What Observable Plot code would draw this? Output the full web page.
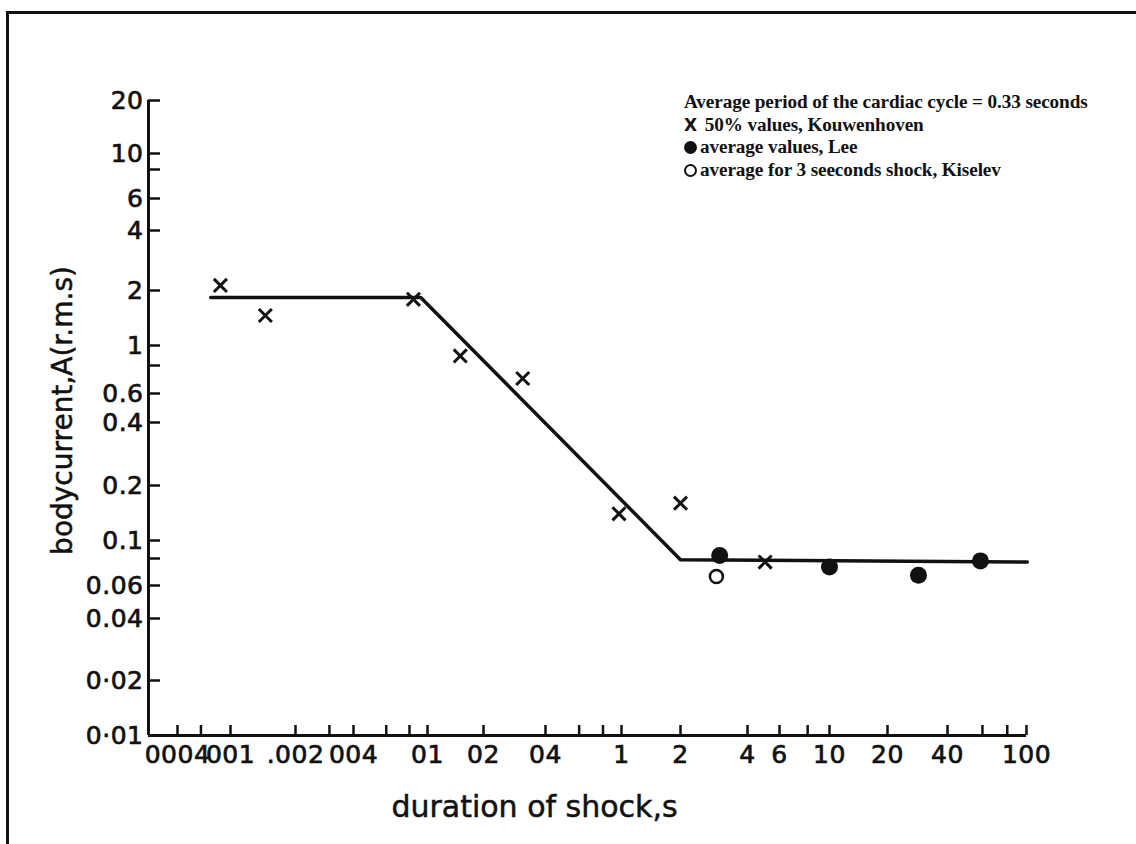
<!DOCTYPE html>
<html>
<head>
<meta charset="utf-8">
<script src="https://cdn.jsdelivr.net/npm/d3@7"></script>
<script src="https://cdn.jsdelivr.net/npm/@observablehq/plot@0.6"></script>
<style>
  html, body { margin: 0; padding: 0; background: #fff; overflow: hidden; }
  #wrap { position: relative; width: 1136px; height: 844px; overflow: hidden; }
  #frame { position: absolute; left: 6px; top: 11px; width: 1300px; height: 1000px;
           border-left: 3px solid #111; border-top: 3px solid #111; pointer-events: none; }
  #chart { position: absolute; left: 0; top: 0; }
  #chart svg g[aria-label$="tick label"] text { letter-spacing: 0.5px; stroke: #111; stroke-width: 0.7px; }
  #chart svg g[aria-label$="axis label"] text { stroke: #111; stroke-width: 0.5px; }
  #legend { position: absolute; left: 684px; top: 91px; color: #111;
            font-family: "Liberation Serif", "Times New Roman", serif; font-weight: bold;
            font-size: 19.2px; line-height: 22.5px; white-space: nowrap; letter-spacing: -0.1px; }
  #legend .x { font-family: "DejaVu Sans", sans-serif; font-weight: bold; font-size: 17px; margin-right: 3px; }
  #legend .mk { display: inline-block; width: 13px; height: 13px; border-radius: 50%;
                box-sizing: border-box; margin-right: 3px; vertical-align: -1px; }
  #legend .fill { background: #111; }
  #legend .open { border: 2.5px solid #111; }
</style>
</head>
<body>
<div id="wrap">
  <div id="chart"></div>
  <div id="frame"></div>
  <div id="legend">
    <div>Average period of the cardiac cycle = 0.33 seconds</div>
    <div><span class="x">X</span> 50% values, Kouwenhoven</div>
    <div><span class="mk fill"></span>average values, Lee</div>
    <div><span class="mk open"></span>average for 3 seeconds shock, Kiselev</div>
  </div>
</div>
<script>
// ---------- data ----------
const xTickValues = [0.004, 0.01, 0.02, 0.04, 0.1, 0.2, 0.4, 1, 2, 4, 6, 10, 20, 40, 100];
const xTickLabels = ["0004", "001", ".002", "004", "01", "02", "04", "1", "2", "4", "6", "10", "20", "40", "100"];
const xMinorTicks = [0.006, 0.03, 0.06, 0.08, 0.6, 0.8, 8, 60, 80];
const yTickValues = [20, 10, 6, 4, 2, 1, 0.6, 0.4, 0.2, 0.1, 0.06, 0.04, 0.02, 0.01];
const yTickLabels = ["20", "10", "6", "4", "2", "1", "0.6", "0.4", "0.2", "0.1", "0.06", "0.04", "0·02", "0·01"];
const yMinorTicks = [8, 0.8, 0.08];

// Kouwenhoven 50% values (X)
const kouwenhovenDuration = [0.0084, 0.0145, 0.084, 0.15, 0.31, 0.97, 2, 5];
const kouwenhovenCurrent  = [2.12, 1.46, 1.79, 0.89, 0.70, 0.14, 0.16, 0.077];
// Lee average values (filled circles)
const leeDuration = [3, 10, 28.6, 58.6];
const leeCurrent  = [0.083, 0.073, 0.067, 0.078];
// Kiselev average for 3 s shock (open circle)
const kiselevDuration = [2.9];
const kiselevCurrent  = [0.066];
// fitted threshold curve
const curveDuration = [0.0071, 0.092, 2, 101];
const curveCurrent  = [1.83, 1.83, 0.079, 0.077];

// ---------- build ----------
const ink = "#111";
const zip = (xs, ys) => xs.map((x, i) => ({x, y: ys[i]}));
const kouwenhoven = zip(kouwenhovenDuration, kouwenhovenCurrent);
const lee = zip(leeDuration, leeCurrent);
const kiselev = zip(kiselevDuration, kiselevCurrent);
const curve = zip(curveDuration, curveCurrent);

const xLabelOf = new Map(xTickValues.map((v, i) => [v, xTickLabels[i]]));
const yLabelOf = new Map(yTickValues.map((v, i) => [v, yTickLabels[i]]));
const xAllTicks = [...xTickValues, ...xMinorTicks].sort((a, b) => a - b);
const yAllTicks = [...yTickValues, ...yMinorTicks].sort((a, b) => b - a);

const xAxisStart = 0.003;
// hand-drawn log axes: piecewise scales (in log10 space) through the printed tick positions
const xDomain = [xAxisStart, ...xTickValues];
const xRange = [148, 177, 230, 295, 353, 427, 483, 545, 621, 680, 747, 779, 829, 887, 947, 1026];
const yDomain = yAllTicks;
const yRange = [100, 153, 169, 198, 230, 290, 345, 365, 393, 422, 485, 540, 558, 585, 618, 680, 735];

const chart = Plot.plot({
  width: 1136,
  height: 844,
  marginLeft: 148,
  marginRight: 216,
  marginTop: 85,
  marginBottom: 109,
  style: {fontFamily: "DejaVu Sans, sans-serif", background: "transparent", color: ink},
  x: {type: "linear", transform: Math.log10, domain: xDomain.map(Math.log10), range: xRange},
  y: {type: "linear", transform: Math.log10, domain: yDomain.map(Math.log10), range: yRange},
  marks: [
    Plot.axisX(xAllTicks, {
      anchor: "bottom", tickSize: -10, tickPadding: 20, strokeWidth: 2.5,
      tickFormat: d => xLabelOf.get(d) ?? "", fontSize: 25, fill: ink, stroke: ink, label: null
    }),
    Plot.axisX([], {
      anchor: "bottom", tickSize: 0, fontSize: 30, fill: ink,
      label: "duration of shock,s", labelAnchor: "center", labelOffset: 81, labelArrow: "none"
    }),
    Plot.axisY(yAllTicks, {
      anchor: "left", tickSize: -12, tickPadding: 17, strokeWidth: 2.5,
      tickFormat: d => yLabelOf.get(d) ?? "", fontSize: 25, fill: ink, stroke: ink, label: null
    }),
    Plot.axisY([], {
      anchor: "left", tickSize: 0, fontSize: 28, fill: ink,
      label: "bodycurrent,A(r.m.s)", labelAnchor: "center", labelOffset: 96, labelArrow: "none"
    }),
    Plot.ruleY([0.01], {x1: xAxisStart, x2: 100, stroke: ink, strokeWidth: 3}),
    Plot.ruleX([xAxisStart], {y1: 0.01, y2: 20, stroke: ink, strokeWidth: 3}),
    Plot.line(curve, {x: "x", y: "y", stroke: ink, strokeWidth: 3.5, strokeLinejoin: "round"}),
    Plot.dot(kouwenhoven, {x: "x", y: "y", symbol: "times", r: 6, stroke: ink, strokeWidth: 3}),
    Plot.dot(lee, {x: "x", y: "y", r: 8.5, fill: ink, stroke: "none"}),
    Plot.dot(kiselev, {x: "x", y: "y", r: 6.5, fill: "white", stroke: ink, strokeWidth: 2.5})
  ]
});
document.getElementById("chart").appendChild(chart);
</script>
</body>
</html>
